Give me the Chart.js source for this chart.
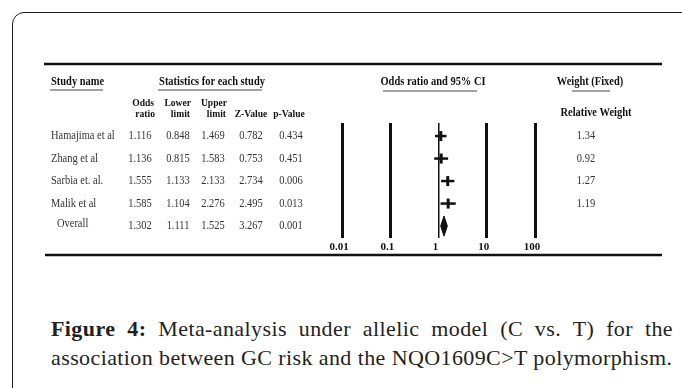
<!DOCTYPE html>
<html>
<head>
<meta charset="utf-8">
<script src="https://cdn.jsdelivr.net/npm/chart.js@4.4.0/dist/chart.umd.min.js"></script>
<style>
  html, body { margin: 0; padding: 0; background: #fff; }
  body { width: 682px; height: 388px; overflow: hidden; position: relative; }
  #frame { position: absolute; left: 12px; top: 12px; width: 720px; height: 420px;
           border: 1.5px solid #222; border-radius: 12px; }
  #plot { position: absolute; left: 0; top: 0; }
  #caption { position: absolute; left: 51px; top: 314px; width: 622px;
             font-family: "Liberation Serif", serif; font-size: 22px; line-height: 29px;
             letter-spacing: 0.4px; text-align: justify; color: #231f20; }
</style>
</head>
<body>
<div id="frame"></div>
<div id="plot"><canvas id="forest" width="682" height="290"></canvas></div>
<div id="caption"><b>Figure 4:</b> Meta-analysis under allelic model (C vs. T) for the association between GC risk and the NQO1609C&gt;T polymorphism.</div>

<script>
// Study rows
const studies = ["Hamajima et al", "Zhang et al", "Sarbia et. al.", "Malik et al"];
const oddsRatio = [1.116, 1.136, 1.555, 1.585];
const lowerLimit = [0.848, 0.815, 1.133, 1.104];
const upperLimit = [1.469, 1.583, 2.133, 2.276];
const zValue = [0.782, 0.753, 2.734, 2.495];
const pValue = [0.434, 0.451, 0.006, 0.013];
const relWeight = [1.34, 0.92, 1.27, 1.19];

// Pooled (fixed) estimate: odds ratio, lower, upper, z, p
const overallLabel = "Overall";
const overallStats = [1.302, 1.111, 1.525, 3.267, 0.001];

// Axis ticks
const tickValues = [0.01, 0.1, 1, 10, 100];
const tickLabels = ["0.01", "0.1", "1", "10", "100"];

const overallRow = studies.length;
const ink = "#111";

// Draw a condensed serif text like the original figure
function drawText(ctx, str, x, y, align, bold, color, size) {
    ctx.save();
    ctx.translate(x, y);
    ctx.scale(0.87, 1);
    ctx.font = (bold ? "bold " : "") + (size || 12) + 'px "Liberation Serif", serif';
    ctx.textAlign = align;
    ctx.textBaseline = "middle";
    ctx.fillStyle = color || ink;
    ctx.fillText(str, 0, 0);
    ctx.restore();
}

function hLine(ctx, x1, x2, y, w, color) {
    ctx.save();
    ctx.strokeStyle = color || ink;
    ctx.lineWidth = w;
    ctx.beginPath();
    ctx.moveTo(x1, y);
    ctx.lineTo(x2, y);
    ctx.stroke();
    ctx.restore();
}

// Plugin for the table part of the forest plot
const tablePlugin = {
    id: "forestTable",
    afterDraw(chart) {
        const ctx = chart.ctx;
        const yScale = chart.scales.y;

        // rules
        hLine(ctx, 44, 662, 64, 2.5);
        hLine(ctx, 45, 662, 255, 2.5);

        // group headers
        drawText(ctx, "Study name", 51, 82, "left", true);
        drawText(ctx, "Statistics for each study", 212, 82, "center", true);
        drawText(ctx, "Odds ratio and 95% CI", 433, 82, "center", true);
        drawText(ctx, "Weight (Fixed)", 590, 82, "center", true);
        hLine(ctx, 50, 103, 90, 1, "#444");
        hLine(ctx, 158, 262, 90, 1, "#444");
        hLine(ctx, 383, 477, 91, 1, "#444");
        hLine(ctx, 572, 610, 91, 1, "#444");

        // column headers
        drawText(ctx, "Odds", 154, 103, "right", true, ink, 11);
        drawText(ctx, "ratio", 155, 114, "right", true, ink, 11);
        drawText(ctx, "Lower", 191, 103, "right", true, ink, 11);
        drawText(ctx, "limit", 190, 114, "right", true, ink, 11);
        drawText(ctx, "Upper", 227, 103, "right", true, ink, 11);
        drawText(ctx, "limit", 226, 114, "right", true, ink, 11);
        drawText(ctx, "Z-Value", 251, 114, "center", true, ink, 11);
        drawText(ctx, "p-Value", 289, 114, "center", true, ink, 11);
        drawText(ctx, "Relative Weight", 596, 113, "center", true);

        // study rows
        const cols = [140, 178, 213, 251, 291];
        const textColor = "#333";
        studies.forEach((name, i) => {
            const y = yScale.getPixelForValue(i);
            drawText(ctx, name, 51, y, "left", false, textColor);
            const vals = [oddsRatio[i], lowerLimit[i], upperLimit[i], zValue[i], pValue[i]];
            vals.forEach((v, j) => drawText(ctx, v.toFixed(3), cols[j], y, "center", false, textColor));
            drawText(ctx, relWeight[i].toFixed(2), 586, y, "center", false, textColor);
        });

        // overall row
        const yo = yScale.getPixelForValue(overallRow);
        drawText(ctx, overallLabel, 57, yo - 2, "left", false, textColor);
        overallStats.forEach((v, j) => drawText(ctx, v.toFixed(3), cols[j], yo, "center", false, textColor));
    }
};

// Confidence interval lines, one dataset per study
const ciDatasets = studies.map((name, i) => ({
    label: name,
    data: [{ x: lowerLimit[i], y: i }, { x: upperLimit[i], y: i }],
    showLine: true,
    borderColor: ink,
    borderWidth: 2.5,
    pointRadius: 0
}));

// Point estimates shown as short vertical bars
const orDataset = {
    label: "Odds ratio",
    data: studies.map((name, i) => ({ x: oddsRatio[i], y: i })),
    pointStyle: "line",
    rotation: 90,
    pointRadius: 5,
    borderWidth: 3,
    borderColor: ink,
    showLine: false
};

// Summary diamond
const halfH = 0.45;
const diamondDataset = {
    label: overallLabel,
    data: [
        { x: overallStats[1], y: overallRow },
        { x: overallStats[0], y: overallRow - halfH },
        { x: overallStats[2], y: overallRow },
        { x: overallStats[0], y: overallRow + halfH },
        { x: overallStats[1], y: overallRow }
    ],
    showLine: true,
    fill: "shape",
    backgroundColor: ink,
    borderColor: ink,
    borderWidth: 1,
    pointRadius: 0,
    tension: 0
};

new Chart(document.getElementById("forest"), {
    type: "scatter",
    data: { datasets: [...ciDatasets, orDataset, diamondDataset] },
    options: {
        responsive: false,
        animation: false,
        layout: { padding: { left: 342, right: 147, top: 123, bottom: 32 } },
        plugins: { legend: { display: false }, tooltip: { enabled: false } },
        scales: {
            x: {
                type: "logarithmic",
                min: tickValues[0],
                max: tickValues[tickValues.length - 1],
                afterBuildTicks: (scale) => {
                    scale.ticks = tickValues.map(v => ({ value: v }));
                },
                afterFit: (scale) => {
                    scale.height = 20;
                },
                ticks: {
                    callback: (v) => tickLabels[tickValues.indexOf(v)],
                    font: { family: '"Liberation Serif", serif', size: 11, weight: "bold" },
                    color: ink,
                    padding: 3,
                    labelOffset: -3,
                    maxRotation: 0,
                    autoSkip: false
                },
                grid: {
                    color: ink,
                    lineWidth: (c) => (c.tick && c.tick.value === 1 ? 1.5 : 3),
                    drawTicks: false
                },
                border: { display: false }
            },
            y: {
                type: "linear",
                reverse: true,
                min: -0.58,
                max: 4.53,
                display: false
            }
        }
    },
    plugins: [tablePlugin]
});
</script>
</body>
</html>
